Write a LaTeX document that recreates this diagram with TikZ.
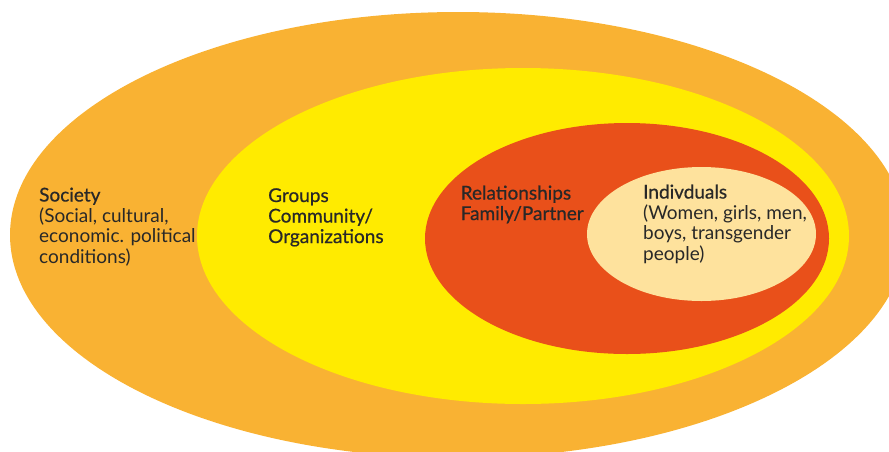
\documentclass[tikz,border=0pt]{standalone}
\usepackage{fontspec}
\setmainfont{Lato}
\newfontfamily\headfont{Lato}[FakeBold=0.6]
\definecolor{societyfill}{RGB}{249,178,51}
\definecolor{groupfill}{RGB}{255,235,0}
\definecolor{relfill}{RGB}{233,80,26}
\definecolor{indfill}{RGB}{254,226,157}
\definecolor{inktext}{RGB}{40,40,40}
% labels are placed by the baseline of their last line
\tikzset{
  ringlabel/.style={anchor=base west, inner sep=0pt, align=left, text=inktext,
    font=\fontsize{19}{20.5}\selectfont},
}
\begin{document}
\begin{tikzpicture}[x=1pt, y=-1pt]
  \useasboundingbox (0,0) rectangle (889,451);
  \clip (0,0) rectangle (889,451);
  % nested levels, outermost first
  \fill[societyfill] (458,235) ellipse [x radius=448, y radius=223];
  \fill[groupfill]   (523,236) ellipse [x radius=326, y radius=168];
  \fill[relfill]     (627,238.5) ellipse [x radius=202, y radius=115.5];
  \fill[indfill]     (701.5,234) ellipse [x radius=114.5, y radius=67];
  % level labels
  \node[ringlabel] (society) at (39,263)
    {{\headfont Society}\\(Social, cultural,\\economic. political\\conditions)};
  \node[ringlabel] (groups) at (268,243)
    {\headfont Groups\\\headfont Community/\\\headfont Organizations};
  \node[ringlabel] (relations) at (460.5,220)
    {\headfont Relationships\\\headfont Family/Partner};
  \node[ringlabel] (individuals) at (643,260)
    {{\headfont Indivduals}\\(Women, girls, men,\\boys, transgender\\people)};
\end{tikzpicture}
\end{document}
